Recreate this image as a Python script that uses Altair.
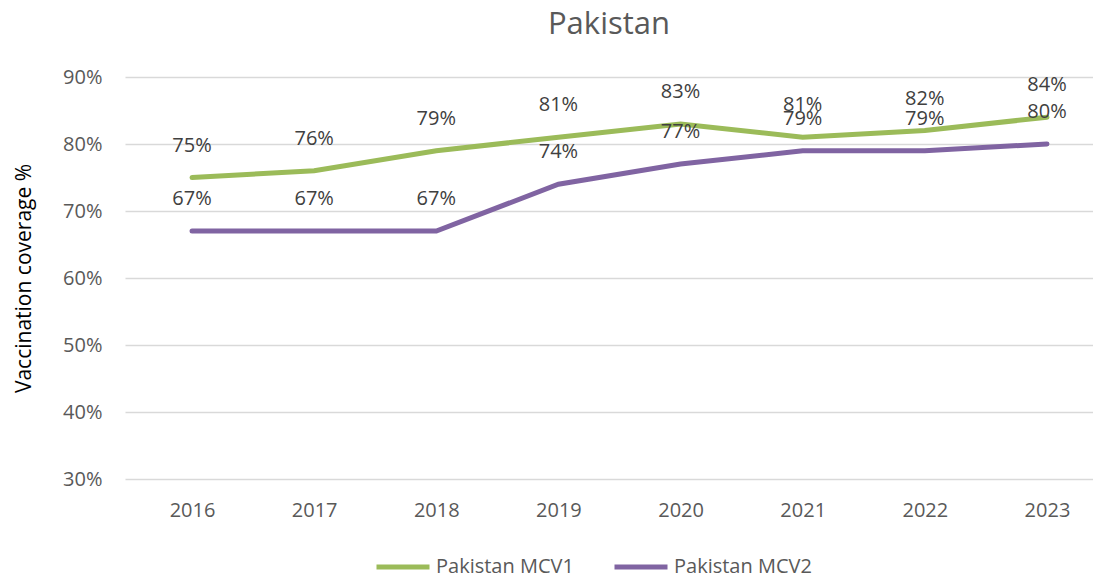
import altair as alt
import pandas as pd

years = [2016, 2017, 2018, 2019, 2020, 2021, 2022, 2023]
mcv1 = [75, 76, 79, 81, 83, 81, 82, 84]
mcv2 = [67, 67, 67, 74, 77, 79, 79, 80]
series_names = ["Pakistan MCV1", "Pakistan MCV2"]
colors = ["#9BBB59", "#8064A2"]

rows = []
for name, vals in zip(series_names, [mcv1, mcv2]):
    for y, v in zip(years, vals):
        rows.append({"Year": y, "Series": name, "Value": v / 100.0, "Label": f"{v}%"})
df = pd.DataFrame(rows)

FONT = "Open Sans"
GREY = "#595959"

x = alt.X("Year:Q",
          scale=alt.Scale(domain=[2015.451, 2023.377], nice=False, zero=False),
          axis=alt.Axis(title=None, labelAngle=0, ticks=False, domain=False,
                        values=years, format="d",
                        labelFontSize=20, labelColor=GREY, labelFont=FONT,
                        labelPadding=21, grid=False))
y = alt.Y("Value:Q",
          scale=alt.Scale(domain=[0.3, 0.9], nice=False, zero=False),
          axis=alt.Axis(title="Vaccination coverage %", format=".0%",
                        values=[0.3, 0.4, 0.5, 0.6, 0.7, 0.8, 0.9],
                        ticks=False, domain=False, gridColor="#D9D9D9", gridWidth=1.5,
                        labelFontSize=20, labelColor=GREY, labelFont=FONT,
                        labelPadding=23, titleFontSize=21, titleFont=FONT,
                        titleColor="#000000", titleFontWeight="normal", titlePadding=28))
color = alt.Color("Series:N", sort=series_names,
                  scale=alt.Scale(domain=series_names, range=colors),
                  legend=alt.Legend(title=None, orient="none", direction="horizontal",
                                    legendX=249, legendY=461,
                                    symbolType="stroke", symbolSize=2809, symbolStrokeWidth=5,
                                    labelFontSize=20, labelColor=GREY, labelFont=FONT,
                                    columnPadding=30, labelOffset=4))

lines = alt.Chart(df).mark_line(strokeWidth=5, strokeCap="round").encode(x=x, y=y, color=color)
labels = alt.Chart(df).mark_text(dy=-32, fontSize=20, font=FONT, color="#404040").encode(
    x=x, y=y, text="Label:N")

chart = alt.layer(lines, labels).properties(
    width=968, height=402,
    title=alt.TitleParams("Pakistan", fontSize=31, font=FONT, color=GREY,
                          fontWeight="normal", offset=26),
    padding={"left": 5, "top": 1, "right": 0, "bottom": 0},
).configure_view(stroke=None)

chart.save("out.html", embed_options={"renderer": "svg", "actions": False})
